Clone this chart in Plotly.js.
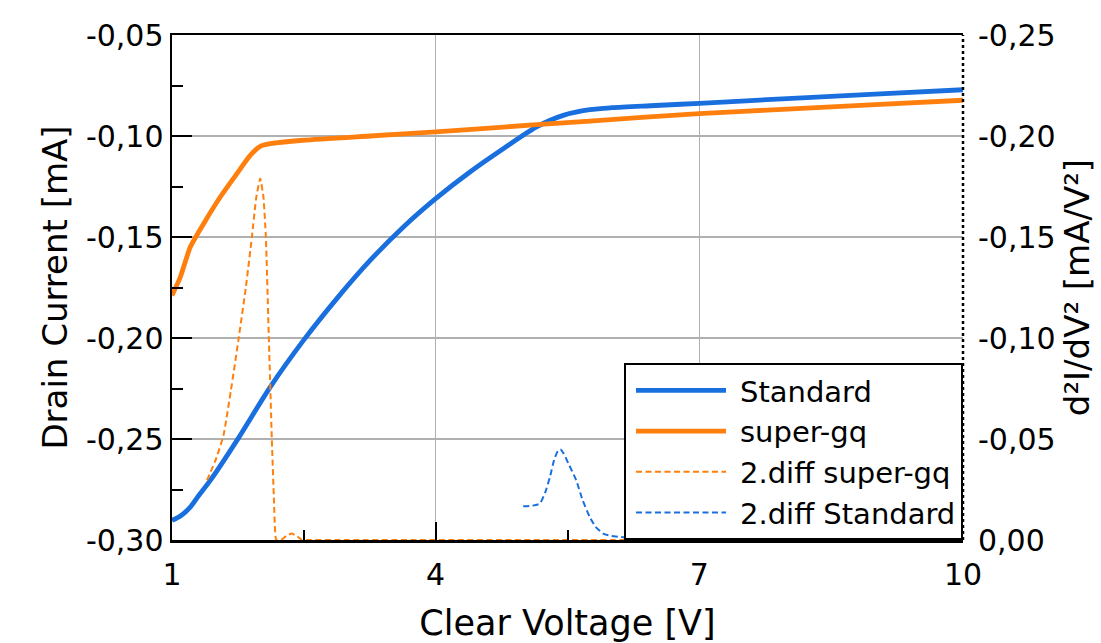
<!DOCTYPE html>
<html>
<head>
<meta charset="utf-8">
<script src="https://cdn.plot.ly/plotly-3.0.1.min.js"></script>
<style>
html,body{margin:0;padding:0;background:#fff;}
#chart{width:1101px;height:643px;}
</style>
</head>
<body>
<div id="chart"></div>
<script>
// ---- data ----
var stdX = [1.0, 1.1, 1.208, 1.3, 1.436, 1.739, 2.117, 2.496, 2.875, 3.254, 3.633, 4.0, 4.39, 4.769, 5.148, 5.451, 5.754, 6.0, 6.5, 7.0, 8.0, 9.0, 10.0];
var stdY = [-0.2903, -0.2880, -0.2837, -0.2782, -0.2705, -0.2507, -0.2243, -0.2012, -0.1805, -0.1616, -0.1450, -0.1310, -0.1178, -0.1063, -0.0955, -0.0898, -0.0870, -0.0860, -0.0849, -0.0838, -0.0815, -0.0793, -0.0771];

var sgqX = [1.0, 1.095, 1.208, 1.36, 1.549, 1.739, 1.89, 2.004, 2.117, 2.496, 3.254, 4.0, 5.148, 5.754, 7.0, 8.0, 9.0, 10.0];
var sgqY = [-0.1790, -0.1698, -0.1550, -0.1434, -0.1302, -0.1186, -0.1096, -0.1051, -0.1038, -0.1021, -0.1000, -0.0980, -0.0944, -0.0926, -0.0889, -0.0867, -0.0845, -0.0823];

var d2SgqX = [1.398, 1.50, 1.587, 1.67, 1.758, 1.84, 1.909, 1.96, 2.004, 2.04, 2.068, 2.102, 2.136, 2.16, 2.186, 2.24, 2.30, 2.36, 2.42, 2.48, 2.55, 3.0, 4.0, 5.0, 6.0, 7.0, 8.0, 9.0, 10.0];
var d2SgqY = [-0.0295, -0.0400, -0.0520, -0.0740, -0.0997, -0.1250, -0.1500, -0.1700, -0.1789, -0.1700, -0.1500, -0.0997, -0.0498, -0.0200, 0.0, 0.0, -0.0020, -0.0032, -0.0020, 0.0, 0.0, 0.0, 0.0, 0.0, 0.0, 0.0, 0.0, 0.0, 0.0];

var d2StdX = [4.996, 5.10, 5.186, 5.25, 5.30, 5.35, 5.394, 5.42, 5.451, 5.52, 5.60, 5.67, 5.753, 5.82, 5.905, 6.0, 6.11, 6.3, 7.0, 8.0, 9.0, 10.0];
var d2StdY = [-0.0167, -0.0170, -0.0180, -0.0240, -0.0312, -0.0400, -0.0444, -0.0448, -0.0432, -0.0370, -0.0295, -0.0200, -0.0114, -0.0065, -0.0032, -0.0020, -0.0015, -0.0005, 0.0, 0.0, 0.0, 0.0];

var xTickVals = [1, 4, 7, 10];
var xTickText = ['1', '4', '7', '10'];
var yTickVals = [-0.30, -0.25, -0.20, -0.15, -0.10, -0.05];
var yTickText = ['-0,30', '-0,25', '-0,20', '-0,15', '-0,10', '-0,05'];
var y2TickVals = [0.00, -0.05, -0.10, -0.15, -0.20, -0.25];
var y2TickText = ['0,00', '-0,05', '-0,10', '-0,15', '-0,20', '-0,25'];

var seriesNames = ['Standard', 'super-gq', '2.diff super-gq', '2.diff Standard'];

// ---- styling ----
var BLUE = '#1a6fdf';
var ORANGE = '#ff7f0e';
var FONT = 'DejaVu Sans, sans-serif';

var traces = [
  {x: stdX, y: stdY, name: seriesNames[0], type: 'scatter', mode: 'lines',
   line: {color: BLUE, width: 4.8, shape: 'spline', smoothing: 0.8}},
  {x: sgqX, y: sgqY, name: seriesNames[1], type: 'scatter', mode: 'lines',
   line: {color: ORANGE, width: 4.8, shape: 'spline', smoothing: 0.6}},
  {x: d2SgqX, y: d2SgqY, name: seriesNames[2], type: 'scatter', mode: 'lines', yaxis: 'y2',
   line: {color: ORANGE, width: 2, dash: '6px,3.5px', shape: 'spline', smoothing: 0.4}},
  {x: d2StdX, y: d2StdY, name: seriesNames[3], type: 'scatter', mode: 'lines', yaxis: 'y2',
   line: {color: BLUE, width: 2, dash: '6px,3.5px', shape: 'spline', smoothing: 0.5}}
];

var layout = {
  width: 1101, height: 643,
  margin: {l: 172, r: 138, t: 35, b: 103},
  paper_bgcolor: '#ffffff',
  plot_bgcolor: '#ffffff',
  font: {family: FONT, color: '#000000', size: 29},
  showlegend: true,
  legend: {
    x: 1, y: 0, xanchor: 'right', yanchor: 'bottom',
    bgcolor: '#ffffff', bordercolor: '#000000', borderwidth: 2,
    font: {family: FONT, size: 29, color: '#000000'},
    itemwidth: 104, tracegroupgap: 0
  },
  xaxis: {
    range: [1, 10], tickmode: 'array', tickvals: xTickVals, ticktext: xTickText,
    ticks: 'inside', ticklen: 18, tickwidth: 2, tickcolor: '#000',
    showline: true, linecolor: '#000', linewidth: 2.5, mirror: true,
    showgrid: true, gridcolor: '#b0b0b0', gridwidth: 1.2,
    zeroline: false, ticklabelstandoff: 6,
    minor: {tick0: 1, dtick: 1.5, ticks: 'inside', ticklen: 10, tickwidth: 2, tickcolor: '#000', showgrid: false},
    tickfont: {family: FONT, size: 30},
    title: {text: 'Clear Voltage [V]', font: {family: FONT, size: 35}, standoff: 22}
  },
  yaxis: {
    range: [-0.30, -0.05], tickmode: 'array', tickvals: yTickVals, ticktext: yTickText,
    ticks: 'inside', ticklen: 20, tickwidth: 2, tickcolor: '#000',
    showline: true, linecolor: '#000', linewidth: 2.5, mirror: false,
    showgrid: true, gridcolor: '#b0b0b0', gridwidth: 1.2,
    zeroline: false,
    minor: {tick0: -0.30, dtick: 0.025, ticks: 'inside', ticklen: 11, tickwidth: 2, tickcolor: '#000', showgrid: false},
    tickfont: {family: FONT, size: 30},
    title: {text: 'Drain Current [mA]', font: {family: FONT, size: 34}, standoff: 8}
  },
  yaxis2: {
    overlaying: 'y', side: 'right', anchor: 'x',
    range: [0, -0.25], tickmode: 'array', tickvals: y2TickVals, ticktext: y2TickText,
    ticks: '', showline: false, showgrid: false, zeroline: false, ticklabelstandoff: 14,
    tickfont: {family: FONT, size: 30},
    title: {text: 'd²I/dV² [mA/V²]', font: {family: FONT, size: 34}, standoff: 10}
  },
  shapes: [
    {type: 'line', xref: 'paper', yref: 'paper', x0: 1, x1: 1, y0: 0, y1: 1,
     line: {color: '#000', width: 2.5, dash: 'dot'}, layer: 'above'}
  ]
};

Plotly.newPlot('chart', traces, layout, {displayModeBar: false, staticPlot: true}).then(function (gd) {
  // stretch the legend line samples to match the reference's longer samples
  var paths = gd.querySelectorAll('.legend .legendlines path');
  paths.forEach(function (p) { p.setAttribute('d', 'M10,0h90'); });
});
</script>
</body>
</html>
